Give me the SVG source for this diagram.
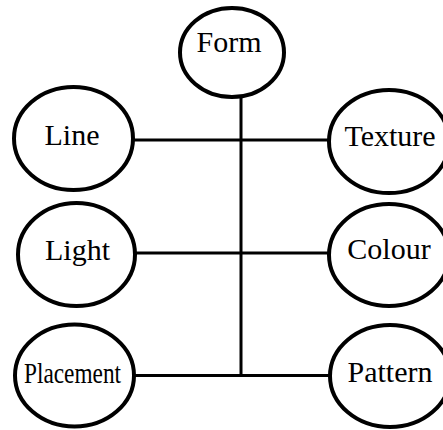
<svg xmlns="http://www.w3.org/2000/svg" width="443" height="430" viewBox="0 0 443 430">
<style>
.n{fill:#fff;stroke:#000;stroke-width:4}
.c{stroke:#000;stroke-width:3;fill:none}
text{font-family:"Liberation Serif","Times New Roman",serif;font-size:30px;fill:#000;text-anchor:middle}
</style>
<rect width="443" height="430" fill="#fff"/>
<g id="connectors">
<line class="c" x1="241" y1="98" x2="241" y2="376"/>
<line class="c" x1="134" y1="140" x2="328" y2="140"/>
<line class="c" x1="136" y1="253" x2="328" y2="253"/>
<line class="c" x1="135" y1="375.5" x2="331" y2="375.5"/>
</g>
<g id="form"><ellipse class="n" cx="232" cy="52.5" rx="52" ry="44.5"/><text x="229" y="52">Form</text></g>
<g id="line"><ellipse class="n" cx="73.5" cy="138.5" rx="59.5" ry="51.5"/><text x="72" y="145">Line</text></g>
<g id="texture"><ellipse class="n" cx="389" cy="141.5" rx="60" ry="51.5"/><text x="390" y="146">Texture</text></g>
<g id="light"><ellipse class="n" cx="76.5" cy="254.5" rx="58.5" ry="51.5"/><text x="77.5" y="260">Light</text></g>
<g id="colour"><ellipse class="n" cx="389" cy="255" rx="60" ry="51"/><text x="389" y="259">Colour</text></g>
<g id="placement"><ellipse class="n" cx="74.5" cy="375.5" rx="59.5" ry="51"/><text x="72.5" y="383" font-size="25" textLength="97" lengthAdjust="spacingAndGlyphs">Placement</text></g>
<g id="pattern"><ellipse class="n" cx="390" cy="376" rx="60" ry="51"/><text x="390" y="382">Pattern</text></g>
</svg>
